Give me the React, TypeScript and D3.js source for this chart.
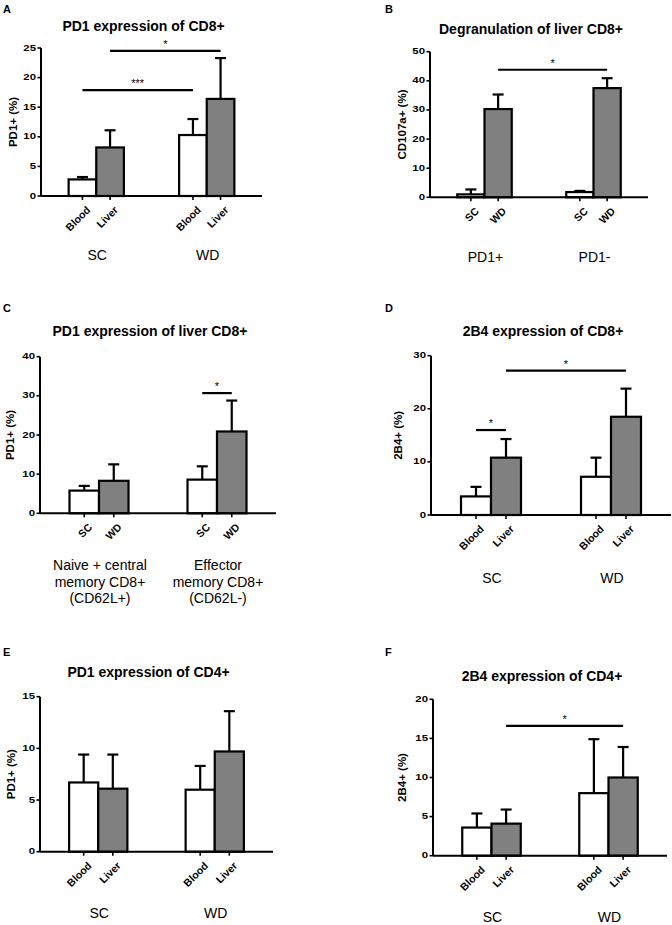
import React from "react";
import * as d3 from "d3";

// ---------- data ----------
const panelLetters = ["A", "B", "C", "D", "E", "F"];
const titles = [
  "PD1 expression of CD8+",
  "Degranulation of liver CD8+",
  "PD1 expression of liver CD8+",
  "2B4 expression of CD8+",
  "PD1 expression of CD4+",
  "2B4 expression of CD4+",
];
const yLabels = ["PD1+ (%)", "CD107a+ (%)", "PD1+ (%)", "2B4+ (%)", "PD1+ (%)", "2B4+ (%)"];

const groupsA = ["SC", "WD"];
const groupsB = ["PD1+", "PD1-"];
const groupsC = ["Naive + central|memory CD8+|(CD62L+)", "Effector|memory CD8+|(CD62L-)"];
const groupsD = ["SC", "WD"];
const groupsE = ["SC", "WD"];
const groupsF = ["SC", "WD"];

const barsTissue = ["Blood", "Liver"];
const barsDiet = ["SC", "WD"];

const meansA = [[2.8, 8.2], [10.3, 16.4]];
const errA = [[0.4, 2.9], [2.7, 6.9]];
const meansB = [[1.0, 30.3], [1.8, 37.5]];
const errB = [[1.7, 5.0], [0.4, 3.4]];
const meansC = [[5.8, 8.3], [8.6, 20.9]];
const errC = [[1.2, 4.2], [3.4, 7.9]];
const meansD = [[3.5, 10.8], [7.2, 18.5]];
const errD = [[1.8, 3.5], [3.6, 5.3]];
const meansE = [[6.7, 6.1], [6.0, 9.7]];
const errE = [[2.7, 3.3], [2.3, 3.9]];
const meansF = [[3.6, 4.1], [8.0, 10.0]];
const errF = [[1.8, 1.8], [6.9, 3.9]];

const yMaxes = [25, 50, 40, 30, 15, 20];
const yTickSteps = [5, 10, 10, 10, 5, 5];

// significance: [groupFrom, barFrom, groupTo, barTo, yValue, label]
const sigA: [number, number, number, number, number, string][] = [
  [0, 1, 1, 1, 24.5, "*"],
  [0, 0, 1, 0, 17.9, "***"],
];
const sigB: [number, number, number, number, number, string][] = [[0, 1, 1, 1, 43.8, "*"]];
const sigC: [number, number, number, number, number, string][] = [[1, 0, 1, 1, 30.7, "*"]];
const sigD: [number, number, number, number, number, string][] = [
  [0, 0, 0, 1, 16.0, "*"],
  [0, 1, 1, 1, 27.2, "*"],
];
const sigE: [number, number, number, number, number, string][] = [];
const sigF: [number, number, number, number, number, string][] = [[0, 1, 1, 1, 16.6, "*"]];

// ---------- layout ----------
const layouts = [
  { x0: 41, x1: 262, yTop: 48, yBot: 196, letter: [3, 13], titleY: 31, yLabX: 14, groupY: 260 },
  { x0: 430, x1: 648, yTop: 51.7, yBot: 197.3, letter: [385, 13], titleY: 34, yLabX: 403, groupY: 262 },
  { x0: 40, x1: 276, yTop: 356.7, yBot: 513.3, letter: [3, 312], titleY: 336, yLabX: 11, groupY: 570 },
  { x0: 431, x1: 671, yTop: 355.7, yBot: 515, letter: [385, 312], titleY: 336, yLabX: 399, groupY: 583 },
  { x0: 40, x1: 273, yTop: 696.7, yBot: 851.7, letter: [3, 656], titleY: 677, yLabX: 12, groupY: 918 },
  { x0: 433, x1: 667, yTop: 699.3, yBot: 855.7, letter: [385, 656], titleY: 681, yLabX: 403, groupY: 922 },
];

const panels = [
  { groups: groupsA, bars: barsTissue, means: meansA, errs: errA, sig: sigA },
  { groups: groupsB, bars: barsDiet, means: meansB, errs: errB, sig: sigB },
  { groups: groupsC, bars: barsDiet, means: meansC, errs: errC, sig: sigC },
  { groups: groupsD, bars: barsTissue, means: meansD, errs: errD, sig: sigD },
  { groups: groupsE, bars: barsTissue, means: meansE, errs: errE, sig: sigE },
  { groups: groupsF, bars: barsTissue, means: meansF, errs: errF, sig: sigF },
];

const FONT = "'Liberation Sans', Arial, Helvetica, sans-serif";
const fills = ["#ffffff", "#808080"];

function Panel({ i }: { i: number }) {
  const L = layouts[i];
  const P = panels[i];
  const y = d3.scaleLinear().domain([0, yMaxes[i]]).range([L.yBot, L.yTop]);
  const xg = d3
    .scaleBand<string>()
    .domain(P.groups)
    .range([L.x0, L.x1])
    .paddingInner(0.5)
    .paddingOuter(0.25);
  const xb = d3.scaleBand<string>().domain(P.bars).range([0, xg.bandwidth()]);
  const ticks = d3.range(0, yMaxes[i] + 0.001, yTickSteps[i]);
  const cx = (g: number, b: number) =>
    (xg(P.groups[g]) as number) + (xb(P.bars[b]) as number) + xb.bandwidth() / 2;
  const titleX = (L.x0 + L.x1) / 2 - 8;
  const yMid = (L.yTop + L.yBot) / 2;

  return (
    <g fontFamily={FONT}>
      <text x={L.letter[0]} y={L.letter[1]} fontSize={11} fontWeight="bold">
        {panelLetters[i]}
      </text>
      <text x={titleX} y={L.titleY} fontSize={14} fontWeight="bold" textAnchor="middle">
        {titles[i]}
      </text>
      <text
        transform={`translate(${L.yLabX},${yMid}) rotate(-90)`}
        fontSize={11.5}
        fontWeight="bold"
        textAnchor="middle"
        dominantBaseline="middle"
      >
        {yLabels[i]}
      </text>
      {/* bars */}
      {P.groups.map((g, gi) =>
        P.bars.map((b, bi) => {
          const x = (xg(g) as number) + (xb(b) as number);
          const m = P.means[gi][bi];
          const e = P.errs[gi][bi];
          const c = cx(gi, bi);
          return (
            <g key={g + b}>
              <line x1={c} x2={c} y1={y(m)} y2={y(m + e)} stroke="#000" strokeWidth={2.2} />
              <line x1={c - 5.5} x2={c + 5.5} y1={y(m + e)} y2={y(m + e)} stroke="#000" strokeWidth={2.2} />
              <rect
                x={x}
                y={y(m)}
                width={xb.bandwidth()}
                height={L.yBot - y(m)}
                fill={fills[bi]}
                stroke="#000"
                strokeWidth={2.2}
              />
            </g>
          );
        })
      )}
      {/* y axis */}
      <line x1={L.x0} x2={L.x0} y1={L.yBot} y2={L.yTop} stroke="#000" strokeWidth={2} />
      {ticks.map((t) => (
        <g key={t}>
          <line x1={L.x0 - 3.5} x2={L.x0} y1={y(t)} y2={y(t)} stroke="#000" strokeWidth={1.6} />
          <text
            transform={`translate(${L.x0 - 5},${y(t)}) scale(1.2,1)`}
            fontSize={9.5}
            fontWeight="bold"
            textAnchor="end"
            dominantBaseline="middle"
          >
            {t}
          </text>
        </g>
      ))}
      {/* x axis */}
      <line x1={L.x0} x2={L.x1} y1={L.yBot} y2={L.yBot} stroke="#000" strokeWidth={2} />
      {P.groups.map((g, gi) =>
        P.bars.map((b, bi) => {
          const c = cx(gi, bi);
          return (
            <g key={"t" + g + b}>
              <line x1={c} x2={c} y1={L.yBot} y2={L.yBot + 4} stroke="#000" strokeWidth={1.6} />
              <text
                transform={`translate(${c + 3},${L.yBot + 9}) rotate(-45)`}
                fontSize={10.5}
                fontWeight="bold"
                textAnchor="end"
                dominantBaseline="hanging"
              >
                {b}
              </text>
            </g>
          );
        })
      )}
      {/* group labels */}
      {P.groups.map((g, gi) => {
        const lines = g.split("|");
        const gx = (xg(g) as number) + xg.bandwidth() / 2 + 1;
        return (
          <text key={"g" + g} x={gx} y={L.groupY} fontSize={14} textAnchor="middle">
            {lines.map((ln, li) => (
              <tspan key={li} x={gx} dy={li === 0 ? 0 : 16.5}>
                {ln}
              </tspan>
            ))}
          </text>
        );
      })}
      {/* significance */}
      {P.sig.map((s, si) => {
        const xa = cx(s[0], s[1]);
        const xbb = cx(s[2], s[3]);
        const yy = y(s[4]);
        return (
          <g key={"s" + si}>
            <line x1={xa} x2={xbb} y1={yy} y2={yy} stroke="#000" strokeWidth={2.2} />
            <text x={(xa + xbb) / 2} y={yy - 3} fontSize={11} textAnchor="middle">
              {s[5]}
            </text>
          </g>
        );
      })}
    </g>
  );
}

export default function App() {
  return (
    <svg
      width={672}
      height={925}
      style={{ position: "absolute", left: 0, top: 0, background: "#fff" }}
    >
      <rect width={672} height={925} fill="#fff" />
      {layouts.map((_, i) => (
        <Panel key={i} i={i} />
      ))}
    </svg>
  );
}
